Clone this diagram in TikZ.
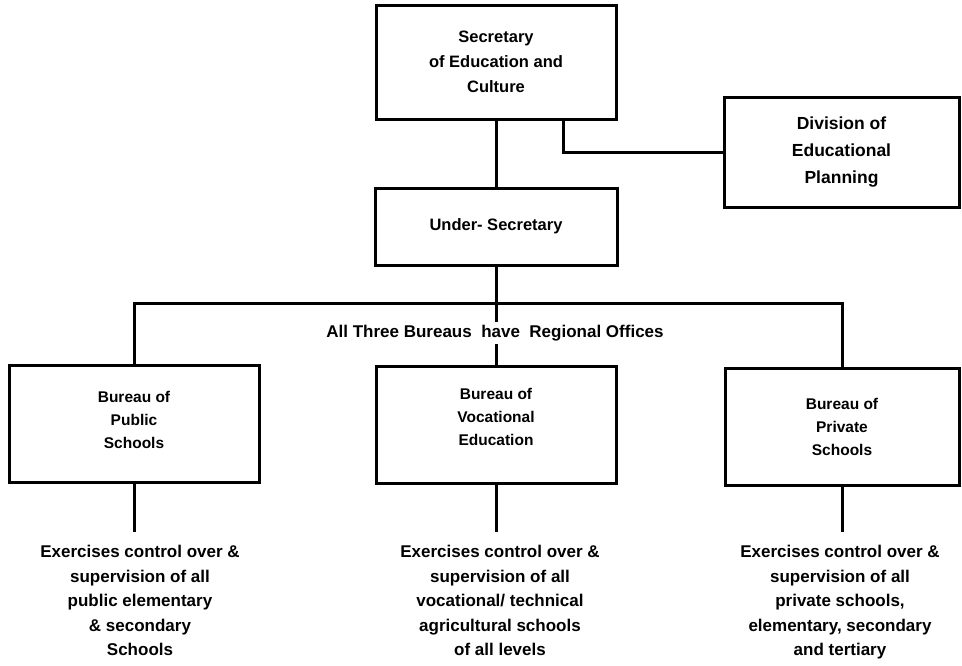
\documentclass[tikz,border=0pt]{standalone}
\usepackage{fontspec}
\setmainfont{Liberation Sans}
\begin{document}
\begin{tikzpicture}[x=1pt,y=-1pt,
  box/.style={draw, line width=3pt, inner sep=0pt, align=center},
  wire/.style={line width=3pt},
  fsec/.style={font=\bfseries\fontsize{16.5}{25}\selectfont},
  fdiv/.style={font=\bfseries\fontsize{17.5}{27}\selectfont},
  fbur/.style={align=center, inner sep=0pt, font=\bfseries\fontsize{15.5}{23}\selectfont},
  desc/.style={align=center, anchor=north, inner sep=0pt,
    font=\bfseries\fontsize{17}{24.5}\selectfont}]
\useasboundingbox (0,0) rectangle (962,665);

% top of the hierarchy
\node[box, fsec, minimum width=240pt, minimum height=114pt] (sec) at (496,62)
  {Secretary\\of Education and\\Culture};
\node[box, fdiv, minimum width=235pt, minimum height=110pt] (div) at (841.5,152)
  {Division of\\Educational\\Planning};
\node[box, fsec, minimum width=242pt, minimum height=77pt] (us) at (496,226.5)
  {Under- Secretary};

% the three bureaus
\node[box, minimum width=250pt, minimum height=117pt] (b1) at (134,423.5) {};
\node[box, minimum width=240pt, minimum height=117pt] (b2) at (496,425) {};
\node[box, minimum width=234pt, minimum height=117pt] (b3) at (842,426.5) {};
\node[fbur] (b1t) at ([yshift=4pt]b1.center) {Bureau of\\Public\\Schools};
\node[fbur] (b2t) at ([yshift=8pt]b2.center) {Bureau of\\Vocational\\Education};
\node[fbur] (b3t) at (b3.center) {Bureau of\\Private\\Schools};

% connectors
\coordinate (tap) at (563,119);
\coordinate (bus) at (496,303);
\coordinate (foot) at (0,532);
\draw[wire] (sec.south) -- (us.north);
\draw[wire] (sec.south -| tap) |- (div.west);
\draw[wire] (us.south) -- (b2.north);
\draw[wire] (b1.north) -- (b1.north |- bus) -- (b3.north |- bus) -- (b3.north);
\node[fill=white, inner sep=3pt, font=\bfseries\fontsize{17}{20}\selectfont] (lab)
  at (495,333) {All Three Bureaus\ \ have\ \ Regional Offices};

\draw[wire] (b1.south) -- (b1.south |- foot) coordinate (f1);
\draw[wire] (b2.south) -- (b2.south |- foot) coordinate (f2);
\draw[wire] (b3.south) -- (b3.south |- foot) coordinate (f3);

% remits of each bureau
\node[desc] (d1) at (140,545)
  {Exercises control over \&\\supervision of all\\public elementary\\\& secondary\\Schools};
\node[desc] (d2) at (500,545)
  {Exercises control over \&\\supervision of all\\vocational/ technical\\agricultural schools\\of all levels};
\node[desc] (d3) at (840,545)
  {Exercises control over \&\\supervision of all\\private schools,\\elementary, secondary\\and tertiary};
\end{tikzpicture}
\end{document}
